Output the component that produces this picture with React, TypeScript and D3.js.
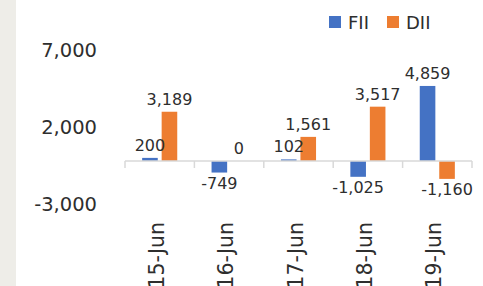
import React from "react";
import * as d3 from "d3";

const categories = ["15-Jun", "16-Jun", "17-Jun", "18-Jun", "19-Jun"];
const seriesNames = ["FII", "DII"];
const fiiValues = [200, -749, 102, -1025, 4859];
const diiValues = [3189, 0, 1561, 3517, -1160];
const yTicks = [7000, 2000, -3000];

const W = 483;
const H = 286;
const colors: Record<string, string> = { FII: "#4472C4", DII: "#ED7D31" };
const FONT = "'DejaVu Sans', sans-serif";
const TEXT = "#2e2e2e";

const fmtBase = d3.format(",");
const fmt = (v: number) => fmtBase(v).replace("\u2212", "-");

export default function App() {
  const x0 = d3.scaleBand<string>().domain(categories).range([125, 472]).padding(0);
  const x1 = d3
    .scaleBand<string>()
    .domain(seriesNames)
    .range([0, x0.bandwidth()])
    .paddingInner(0.2)
    .paddingOuter(0.88);
  const y = d3.scaleLinear().domain([-3000, 7000]).range([207.3, 52.9]);
  const valuesBySeries: Record<string, number[]> = { FII: fiiValues, DII: diiValues };

  const boundaries = categories.map((c) => x0(c) as number).concat([472]);

  return (
    <svg
      width={W}
      height={H}
      style={{ position: "absolute", left: 0, top: 0, background: "#ffffff" }}
      fontFamily={FONT}
    >
      <rect x={0} y={0} width={16} height={H} fill="#eeede8" />
      {/* y axis labels */}
      {yTicks.map((t) => (
        <text key={t} x={97} y={y(t) + 4} textAnchor="end" fontSize={19.5} fill={TEXT}>
          {fmt(t)}
        </text>
      ))}
      {/* bars */}
      {categories.map((c, i) => (
        <g key={c} transform={`translate(${x0(c)},0)`}>
          {seriesNames.map((s) => {
            const v = valuesBySeries[s][i];
            const top = y(Math.max(0, v));
            const h = Math.abs(y(v) - y(0));
            const bx = x1(s) as number;
            return (
              <rect key={s} x={bx} y={top} width={x1.bandwidth()} height={h} fill={colors[s]} />
            );
          })}
        </g>
      ))}
      {/* data labels */}
      {categories.map((c, i) => (
        <g key={c} transform={`translate(${x0(c)},0)`}>
          {seriesNames.map((s) => {
            const v = valuesBySeries[s][i];
            const cx = (x1(s) as number) + x1.bandwidth() / 2;
            return (
              <text
                key={s}
                x={cx}
                y={v >= 0 ? y(v) - 7 : y(v) + 16}
                textAnchor="middle"
                fontSize={16}
                fill={TEXT}
              >
                {fmt(v)}
              </text>
            );
          })}
        </g>
      ))}
      {/* axis line */}
      <line x1={125} x2={472} y1={y(0)} y2={y(0)} stroke="#d9d9d9" strokeWidth={1.5} />
      {boundaries.map((b, i) => (
        <line key={i} x1={b} x2={b} y1={y(0)} y2={y(0) + 7} stroke="#d9d9d9" strokeWidth={1.5} />
      ))}
      {/* category labels */}
      {categories.map((c) => (
        <text
          key={c}
          transform={`translate(${(x0(c) as number) + x0.bandwidth() / 2 + 4},222) rotate(-90)`}
          textAnchor="end"
          fontSize={20.5}
          fill={TEXT}
        >
          {c}
        </text>
      ))}
      {/* legend */}
      {seriesNames.map((s, i) => {
        const lx = [329, 387][i];
        return (
          <g key={s}>
            <rect x={lx} y={16} width={12} height={12} fill={colors[s]} />
            <text x={lx + 19} y={28.5} fontSize={18} fill={TEXT}>
              {s}
            </text>
          </g>
        );
      })}
    </svg>
  );
}
